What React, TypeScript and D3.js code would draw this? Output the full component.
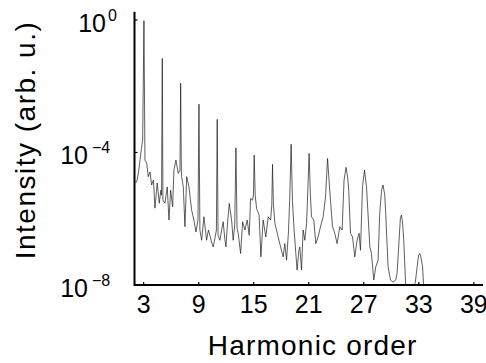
import { useMemo } from "react";
import { scaleLinear, scaleLog, line } from "d3";

// harmonic order vs log10 of intensity
const spectrum: [number, number][] = [
  [2.05, -4.89], [2.24, -4.89], [2.44, -4.59], [2.6, -4.23], [2.76, -3.87], [2.89, -3.63],
  [3.03, -0.02], [3.14, -4.23], [3.33, -4.32], [3.5, -4.73], [3.69, -4.59], [3.87, -4.98],
  [4.07, -4.83], [4.23, -5.68], [4.48, -4.92], [4.7, -5.53], [4.87, -5.14], [4.95, -5.29],
  [5.03, -1.16], [5.1, -5.44], [5.32, -5.53], [5.57, -5.04], [5.76, -6.04], [5.94, -5.14],
  [6.16, -5.64], [6.3, -4.53], [6.52, -4.23], [6.77, -4.63], [6.96, -4.53], [7.03, -1.91],
  [7.11, -4.59], [7.14, -4.73], [7.32, -5.04], [7.5, -6.24], [7.69, -4.73], [7.94, -5.04],
  [8.23, -5.74], [8.48, -6.04], [8.7, -6.4], [8.92, -6.04], [9.03, -2.54], [9.13, -6.34],
  [9.32, -6.65], [9.57, -5.94], [9.86, -6.65], [10.06, -6.34], [10.22, -6.5], [10.41, -6.71],
  [10.58, -6.85], [10.77, -6.59], [10.93, -6.34], [11.02, -3.0], [11.11, -6.5], [11.31, -6.65],
  [11.5, -6.34], [11.67, -6.09], [11.84, -6.59], [11.97, -6.85], [12.13, -6.19], [12.33, -5.54],
  [12.59, -6.04], [12.76, -6.65], [12.93, -6.19], [13.06, -3.86], [13.18, -6.28], [13.31, -6.44],
  [13.57, -7.05], [13.79, -6.09], [14.04, -6.34], [14.29, -6.04], [14.51, -6.5], [14.66, -5.39],
  [14.88, -5.44], [14.97, -5.29], [15.05, -4.08], [15.16, -5.29], [15.31, -5.69], [15.59, -5.89],
  [15.78, -7.15], [16.03, -6.04], [16.32, -6.55], [16.58, -5.94], [16.84, -6.04], [16.97, -5.59],
  [17.05, -4.36], [17.15, -5.59], [17.31, -6.14], [17.66, -6.55], [17.93, -6.85], [18.21, -7.15],
  [18.39, -6.75], [18.58, -7.25], [18.78, -6.44], [18.92, -5.44], [19.08, -3.75], [19.22, -5.44],
  [19.38, -6.24], [19.59, -7.05], [19.73, -7.55], [19.92, -6.95], [20.03, -6.85], [20.21, -7.55],
  [20.39, -6.34], [20.57, -6.65], [20.76, -6.14], [20.9, -5.14], [21.04, -4.03], [21.18, -5.29],
  [21.3, -5.94], [21.55, -6.04], [21.77, -6.75], [22.02, -6.55], [22.28, -6.24], [22.57, -5.94],
  [22.83, -5.34], [23.05, -4.18], [23.25, -4.98], [23.37, -5.44], [23.59, -6.24], [23.84, -6.44],
  [24.09, -6.75], [24.39, -6.24], [24.64, -6.34], [24.85, -4.83], [25.07, -4.45], [25.25, -4.77],
  [25.36, -5.14], [25.55, -6.44], [25.77, -6.55], [26.02, -7.15], [26.27, -6.65], [26.49, -6.44],
  [26.64, -6.95], [26.86, -5.04], [27.08, -4.53], [27.3, -5.04], [27.5, -6.04], [27.66, -6.85],
  [27.84, -7.05], [28.09, -7.85], [28.31, -7.45], [28.56, -7.25], [28.74, -5.84], [28.94, -5.14],
  [29.1, -4.98], [29.29, -5.29], [29.39, -5.84], [29.65, -7.45], [29.91, -7.85], [30.19, -7.91],
  [30.49, -7.85], [30.63, -7.65], [30.85, -6.65], [30.99, -5.98], [31.11, -5.89], [31.25, -6.19],
  [31.36, -6.65], [31.58, -8.1], [32.02, -7.98], [32.35, -8.1], [32.62, -7.92], [32.82, -7.45],
  [32.98, -7.1], [33.11, -7.05], [33.25, -7.19], [33.41, -7.45], [33.55, -8.16], [35.0, -8.3],
  [40.0, -8.3],
];

const xTicks = [3, 9, 15, 21, 27, 33, 39];
const yTickExps = [0, -4, -8];
const xLabel = "Harmonic order";
const yLabel = "Intensity (arb. u.)";

const W = 486;
const H = 363;
const left = 134.5;
const right = 483;
const bottom = 285;
const top = 11.7;
const font = "'Liberation Sans', Arial, sans-serif";

export default function App() {
  const x = scaleLinear().domain([2, 40]).range([left, right]);
  const y = scaleLog().domain([1e-8, Math.pow(10, 0.25)]).range([bottom, top]);

  const path = useMemo(
    () =>
      line<[number, number]>()
        .x((d) => x(d[0]))
        .y((d) => y(Math.pow(10, d[1])))(spectrum),
    []
  );

  return (
    <svg
      width={W}
      height={H}
      style={{ position: "absolute", left: 0, top: 0, background: "#fff" }}
    >
      <defs>
        <clipPath id="plot">
          <rect x={left} y={top} width={right - left} height={bottom - top} />
        </clipPath>
      </defs>

      <path
        d={path ?? ""}
        fill="none"
        stroke="#1a1a1a"
        strokeWidth={0.7}
        strokeLinejoin="round"
        clipPath="url(#plot)"
      />

      {/* axes */}
      <line x1={left} x2={right} y1={bottom} y2={bottom} stroke="#000" strokeWidth={2} />
      <line x1={left} x2={left} y1={top} y2={bottom + 1} stroke="#000" strokeWidth={2} />

      {xTicks.map((t) => (
        <g key={t}>
          <line x1={x(t)} x2={x(t)} y1={bottom} y2={bottom - 3} stroke="#000" strokeWidth={1.2} />
          <text
            x={x(t)}
            y={313}
            textAnchor="middle"
            fontFamily={font}
            fontSize={25}
            fill="#000"
          >
            {t}
          </text>
        </g>
      ))}

      {yTickExps.map((e) => {
        const py = y(Math.pow(10, e));
        return (
          <g key={e}>
            <line x1={left} x2={left + 3} y1={py} y2={py} stroke="#000" strokeWidth={1.2} />
            <text
              x={e === 0 ? 106 : 88}
              y={py + 12}
              textAnchor="end"
              fontFamily={font}
              fontSize={25}
              fill="#000"
            >
              10
            </text>
            <text
              x={e === 0 ? 108 : 92}
              y={py + 1}
              textAnchor="start"
              fontFamily={font}
              fontSize={16}
              fill="#000"
            >
              {e === 0 ? "0" : `\u2212${-e}`}
            </text>
          </g>
        );
      })}

      <text
        x={(left + right) / 2 + 4}
        y={355}
        textAnchor="middle"
        fontFamily={font}
        fontSize={28}
        letterSpacing={1.2}
        fill="#000"
      >
        {xLabel}
      </text>
      <text
        transform={`translate(35,${140}) rotate(-90)`}
        textAnchor="middle"
        fontFamily={font}
        fontSize={28}
        letterSpacing={1.5}
        fill="#000"
      >
        {yLabel}
      </text>
    </svg>
  );
}
